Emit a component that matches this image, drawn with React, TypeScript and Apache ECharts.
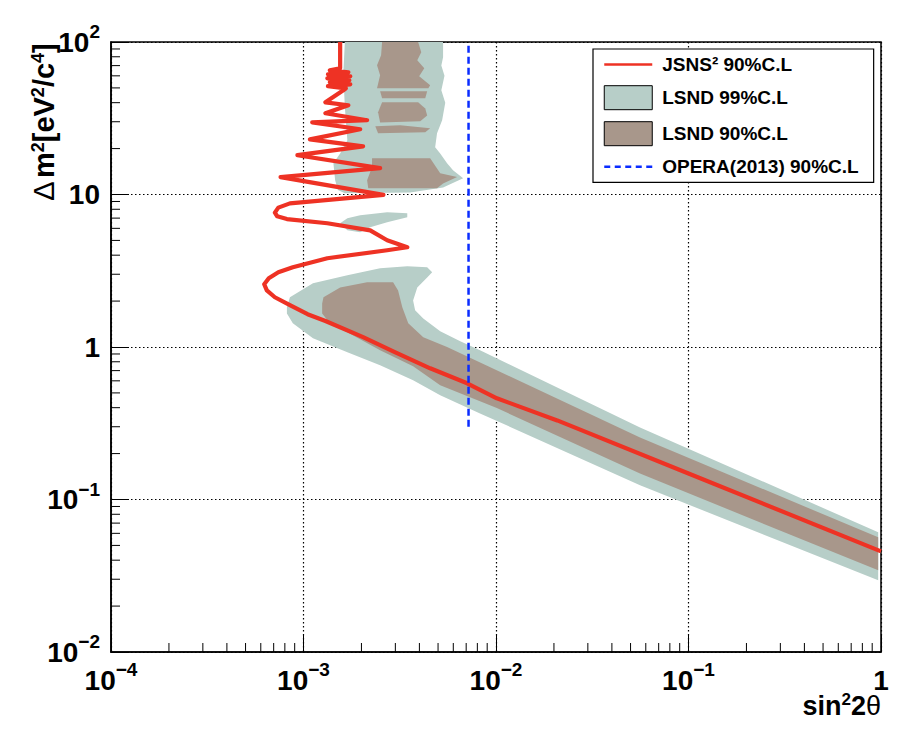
import React, { useEffect, useRef } from 'react';
import * as echarts from 'echarts';

type Pt = [number, number];

// JSNS^2 90% C.L. sensitivity contour (sin^2 2theta, dm^2)
const jsns2Curve: Pt[] = [
  [1.55e-3, 100], [1.55e-3, 67.3],
  [1.37e-3, 65.2], [1.71e-3, 63.3], [1.34e-3, 61.4], [1.75e-3, 59.6], [1.33e-3, 57.8],
  [1.73e-3, 56.1], [1.37e-3, 54.4], [1.75e-3, 52.8], [1.34e-3, 51.3], [1.66e-3, 49.7],
  [1.61e-3, 48.2], [1.30e-3, 40.2], [1.71e-3, 38.5], [1.30e-3, 34.1], [2.14e-3, 30.7],
  [1.11e-3, 29.7], [1.97e-3, 26.8], [1.08e-3, 23.0], [2.04e-3, 20.7], [9.3e-4, 18.1],
  [2.5e-3, 14.9], [7.6e-4, 13.0], [2.6e-3, 9.95], [8.5e-4, 8.75], [7.4e-4, 8.2],
  [7.1e-4, 7.6], [7.3e-4, 7.2], [8.2e-4, 6.9], [1.33e-3, 6.48], [2.22e-3, 5.82],
  [2.72e-3, 5.01], [3.46e-3, 4.51], [2.72e-3, 4.31], [1.33e-3, 3.82], [8.8e-4, 3.33],
  [7.4e-4, 3.09], [6.6e-4, 2.82], [6.25e-4, 2.58], [6.45e-4, 2.35], [7.1e-4, 2.12],
  [8.5e-4, 1.88], [1.05e-3, 1.64], [1.30e-3, 1.48], [2.04e-3, 1.16],
  [3.0e-3, 0.923], [4.55e-3, 0.725], [7.08e-3, 0.578], [1.01e-2, 0.461], [2.08e-2, 0.330],
  [0.1, 0.148], [1.0, 0.0457],
];

// LSND 99% C.L. allowed regions
const lsnd99Upper: Pt[] = [
  [1.64e-3, 100], [1.61e-3, 62.4], [1.64e-3, 37.3], [1.69e-3, 22.7], [1.55e-3, 18.6],
  [1.43e-3, 16.0], [1.46e-3, 12.4], [1.51e-3, 10.7], [1.64e-3, 10.2], [3.58e-3, 10.3],
  [5.31e-3, 11.1], [6.75e-3, 12.8], [5.98e-3, 14.4], [5.57e-3, 16.0], [5.13e-3, 18.6],
  [4.83e-3, 20.4], [4.94e-3, 25.2], [5.25e-3, 30.7], [5.45e-3, 40.0], [5.2e-3, 48.2],
  [5.4e-3, 60.0], [5.2e-3, 70.0], [5.31e-3, 79.4], [5.31e-3, 100],
];
const lsnd99Island: Pt[] = [
  [1.55e-3, 6.48], [1.69e-3, 6.98], [1.97e-3, 7.31], [2.72e-3, 7.64], [3.46e-3, 7.53],
  [3.46e-3, 7.09], [2.72e-3, 6.58], [2.22e-3, 6.10], [1.97e-3, 5.65], [1.69e-3, 5.82],
];
const lsnd99Lower: Pt[] = [
  [8.2e-4, 1.82], [8.5e-4, 2.12], [1.12e-3, 2.62], [1.69e-3, 2.95], [2.5e-3, 3.28],
  [3.46e-3, 3.38], [4.39e-3, 3.33], [4.66e-3, 3.09], [4.39e-3, 2.86], [3.9e-3, 2.46],
  [3.71e-3, 2.02], [3.8e-3, 1.74], [4.19e-3, 1.54], [5.13e-3, 1.27], [6.52e-3, 1.09],
  [8.26e-3, 0.951], [5.6e-2, 0.297], [0.967, 0.061], [0.967, 0.0295], [5.6e-2, 0.124],
  [8.26e-3, 0.367], [5.13e-3, 0.482], [3.71e-3, 0.605], [2.5e-3, 0.759], [1.69e-3, 0.923],
  [1.12e-3, 1.14], [8.8e-4, 1.43], [8.2e-4, 1.66],
];

// LSND 90% C.L. allowed regions
const lsnd90Top: Pt[] = [
  [2.56e-3, 100], [3.94e-3, 100], [4.09e-3, 85.6], [3.9e-3, 75.9], [4.24e-3, 67.3],
  [3.99e-3, 59.6], [4.55e-3, 52.0], [4.45e-3, 49.7], [2.41e-3, 49.7], [2.5e-3, 60.5],
  [2.41e-3, 70.3], [2.53e-3, 81.8],
];
const lsnd90Stripe1: Pt[] = [[2.5e-3, 47.5], [4.39e-3, 47.5], [4.29e-3, 42.8], [2.56e-3, 42.8]];
const lsnd90Mid: Pt[] = [
  [2.56e-3, 40.2], [3.94e-3, 40.2], [4.29e-3, 36.7], [4.39e-3, 33.0], [4.04e-3, 30.2],
  [2.5e-3, 29.7], [2.44e-3, 34.6],
];
const lsnd90Stripe2: Pt[] = [[2.36e-3, 28.0], [3.18e-3, 28.4], [4.55e-3, 27.2], [4.29e-3, 25.6], [2.44e-3, 25.2]];
const lsnd90Low10: Pt[] = [
  [2.27e-3, 17.3], [4.55e-3, 17.3], [4.89e-3, 15.1], [5.13e-3, 13.8], [6.28e-3, 13.0],
  [5.31e-3, 11.8], [4.94e-3, 11.0], [2.17e-3, 11.0], [2.14e-3, 12.4], [2.27e-3, 15.1],
];
const lsnd90Lower: Pt[] = [
  [1.25e-3, 1.93], [1.27e-3, 2.12], [1.55e-3, 2.46], [2.14e-3, 2.66], [2.92e-3, 2.66],
  [3.1e-3, 2.35], [3.26e-3, 1.82], [3.5e-3, 1.43], [4.19e-3, 1.16], [5.57e-3, 1.0],
  [5.6e-2, 0.255], [0.967, 0.0565], [0.967, 0.0343], [5.6e-2, 0.148], [1.01e-2, 0.398],
  [5.13e-3, 0.561], [3.71e-3, 0.747], [2.5e-3, 0.952], [1.69e-3, 1.25], [1.37e-3, 1.43],
  [1.25e-3, 1.66],
];

// OPERA (2013) 90% C.L. limit
const opera2013: Pt[] = [[7.2e-3, 0.3], [7.2e-3, 100]];

const lsnd99Regions = [lsnd99Upper, lsnd99Island, lsnd99Lower];
const lsnd90Regions = [lsnd90Top, lsnd90Stripe1, lsnd90Mid, lsnd90Stripe2, lsnd90Low10, lsnd90Lower];

// axis decades and minor-tick multipliers
const xDecades = [1e-4, 1e-3, 1e-2, 1e-1];
const yDecades = [1e-2, 1e-1, 1, 10];
const minorSteps = [2, 3, 4, 5, 6, 7, 8, 9];

const NAME_JSNS = 'JSNS² 90%C.L';
const NAME_L99 = 'LSND 99%C.L';
const NAME_L90 = 'LSND 90%C.L';
const NAME_OPERA = 'OPERA(2013) 90%C.L';

const FONT = '"Liberation Sans", Arial, Helvetica, sans-serif';
const LIGHT = '#b7cec8';
const BROWN = '#a8978b';
const RED = '#ee3224';
const BLUE = '#0a2cff';

const richLabel = {
  b: { fontSize: 28, fontWeight: 'bold', fontFamily: FONT, color: '#000', lineHeight: 40 },
  s: { fontSize: 19, fontWeight: 'bold', fontFamily: FONT, color: '#000', lineHeight: 16, verticalAlign: 'top' },
};

function powLabel(v: number): string {
  const e = Math.round(Math.log10(v));
  if (e === 0) return '{b|1}';
  if (e === 1) return '{b|10}';
  return `{b|10}{s|${e < 0 ? '−' : ''}${Math.abs(e)}}`;
}

const hiddenSymbol = { color: 'rgba(0,0,0,0)', borderColor: 'rgba(0,0,0,0)', borderWidth: 0, opacity: 0 };

export default function App() {
  const ref = useRef<HTMLDivElement>(null);
  useEffect(() => {
    if (!ref.current) return;
    const chart = echarts.init(ref.current, undefined, { renderer: 'svg' });

    const polySeries = (name: string, regions: Pt[][], color: string, z: number) => ({
      type: 'custom',
      name,
      silent: true,
      z,
      itemStyle: { color },
      data: regions.map((r, i) => [r[0][0], r[0][1], i]),
      encode: { x: 0, y: 1 },
      renderItem: (params: any, api: any) => {
        const poly = regions[api.value(2)];
        return {
          type: 'polygon',
          shape: { points: poly.map((p) => api.coord(p)) },
          style: { fill: color },
        };
      },
    });

    const xMinor: Pt[] = [];
    xDecades.forEach((d) => minorSteps.forEach((k) => xMinor.push([k * d, 0.01])));
    const yMinor: Pt[] = [];
    yDecades.forEach((d) => minorSteps.forEach((k) => yMinor.push([1e-4, k * d])));

    const option: any = {
      animation: false,
      backgroundColor: '#fff',
      grid: { left: 111, top: 42, width: 770, height: 610, show: true, borderColor: '#000', borderWidth: 1.5 },
      xAxis: {
        type: 'log', logBase: 10, min: 1e-4, max: 1,
        axisLine: { show: true, onZero: false, lineStyle: { color: '#000', width: 1.5 } },
        axisTick: { show: true, inside: true, length: 18, lineStyle: { color: '#000', width: 1 } },
        axisLabel: { margin: 8, formatter: powLabel, rich: richLabel },
        splitLine: { show: true, lineStyle: { color: '#000', width: 1.2, type: [1.5, 2.5] } },
      },
      yAxis: {
        type: 'log', logBase: 10, min: 0.01, max: 100,
        axisLine: { show: true, onZero: false, lineStyle: { color: '#000', width: 1.5 } },
        axisTick: { show: true, inside: true, length: 18, lineStyle: { color: '#000', width: 1 } },
        axisLabel: { margin: 11, formatter: powLabel, rich: richLabel },
        splitLine: { show: true, lineStyle: { color: '#000', width: 1.2, type: [1.5, 2.5] } },
      },
      legend: {
        orient: 'vertical', left: 593, top: 49,
        padding: [6, 15, 6, 10], itemWidth: 48, itemHeight: 24, itemGap: 11,
        backgroundColor: '#fff', borderColor: '#000', borderWidth: 1.2, borderRadius: 0,
        selectedMode: false,
        textStyle: { fontSize: 19, fontWeight: 'bold', fontFamily: FONT, color: '#000', padding: [0, 0, 0, 5] },
        data: [
          { name: NAME_JSNS, itemStyle: hiddenSymbol, lineStyle: { color: RED, width: 2.5 } },
          { name: NAME_L99, icon: 'rect', itemStyle: { color: LIGHT, borderColor: '#000', borderWidth: 1 } },
          { name: NAME_L90, icon: 'rect', itemStyle: { color: BROWN, borderColor: '#000', borderWidth: 1 } },
          { name: NAME_OPERA, itemStyle: hiddenSymbol, lineStyle: { color: BLUE, width: 2.5, type: [6, 4.5] } },
        ],
      },
      series: [
        polySeries(NAME_L99, lsnd99Regions, LIGHT, 1),
        polySeries(NAME_L90, lsnd90Regions, BROWN, 2),
        {
          type: 'line', name: NAME_JSNS, data: jsns2Curve, z: 3,
          symbol: 'none', showSymbol: false, silent: true,
          lineStyle: { color: RED, width: 4.2, join: 'round' }, itemStyle: { color: RED },
        },
        {
          type: 'line', name: NAME_OPERA, data: opera2013, z: 4,
          symbol: 'none', showSymbol: false, silent: true,
          lineStyle: { color: BLUE, width: 2.5, type: [7, 4] }, itemStyle: { color: BLUE },
        },
        {
          type: 'custom', name: 'xMinorTicks', silent: true, z: 5,
          data: xMinor, encode: { x: 0, y: 1 },
          renderItem: (params: any, api: any) => {
            const p = api.coord([api.value(0), api.value(1)]);
            return { type: 'line', shape: { x1: p[0], y1: p[1], x2: p[0], y2: p[1] - 9 }, style: { stroke: '#000', lineWidth: 1 } };
          },
        },
        {
          type: 'custom', name: 'yMinorTicks', silent: true, z: 5,
          data: yMinor, encode: { x: 0, y: 1 },
          renderItem: (params: any, api: any) => {
            const p = api.coord([api.value(0), api.value(1)]);
            return { type: 'line', shape: { x1: p[0], y1: p[1], x2: p[0] + 9, y2: p[1] }, style: { stroke: '#000', lineWidth: 1 } };
          },
        },
      ],
      graphic: [
        {
          type: 'text', x: 881, y: 706, z: 10,
          style: {
            text: '{a|sin}{s|2}{a|2}{t|θ}', align: 'right', verticalAlign: 'middle',
            rich: {
              a: { fontSize: 27, fontWeight: 'bold', fontFamily: FONT, fill: '#000', lineHeight: 30 },
              s: { fontSize: 17, fontWeight: 'bold', fontFamily: FONT, fill: '#000', lineHeight: 14, verticalAlign: 'top' },
              t: { fontSize: 27, fontWeight: 'normal', fontFamily: FONT, fill: '#000', lineHeight: 30 },
            },
          },
        },
        {
          type: 'text', x: 44, y: 122, rotation: Math.PI / 2, z: 10,
          style: {
            text: '{t|Δ} {a|m}{s|2}{a|[eV}{s|2}{a|/c}{s|4}{a|]}', align: 'center', verticalAlign: 'middle',
            rich: {
              a: { fontSize: 29, fontWeight: 'bold', fontFamily: FONT, fill: '#000', lineHeight: 30 },
              s: { fontSize: 18, fontWeight: 'bold', fontFamily: FONT, fill: '#000', lineHeight: 14, verticalAlign: 'top' },
              t: { fontSize: 29, fontWeight: 'normal', fontFamily: FONT, fill: '#000', lineHeight: 30 },
            },
          },
        },
      ],
    };
    chart.setOption(option);
    return () => chart.dispose();
  }, []);
  return <div ref={ref} style={{ position: 'absolute', left: 0, top: 0, width: 908, height: 746, background: '#fff' }} />;
}
